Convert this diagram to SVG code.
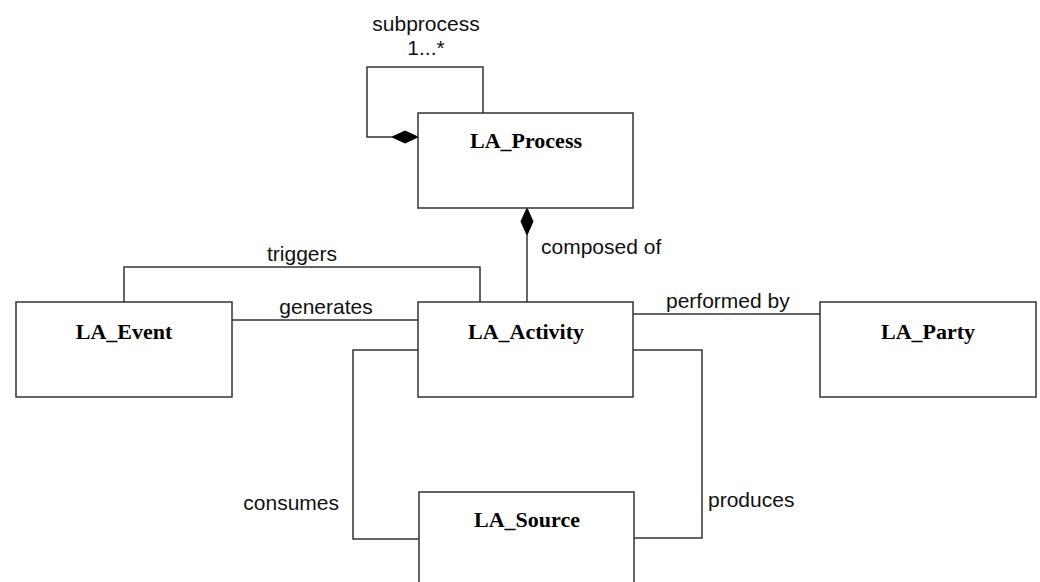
<svg xmlns="http://www.w3.org/2000/svg" width="1040" height="582" viewBox="0 0 1040 582">
<style>
.box{fill:#fff;stroke:#333;stroke-width:1.5}
.ln{fill:none;stroke:#333;stroke-width:1.5}
.dm{fill:#000;stroke:#000;stroke-width:1}
.nm{font-family:"Liberation Serif","Times New Roman",serif;font-weight:bold;font-size:22px;fill:#000;text-anchor:middle}
.lb{font-family:"Liberation Sans",Arial,sans-serif;font-size:21px;fill:#111}
</style>
<rect width="1040" height="582" fill="#fff"/>
<g id="connectors">
<polyline class="ln" points="483,113 483,67 367,67 367,137 392,137"/>
<polygon class="dm" points="392,137 405,131 418,137 405,143"/>
<line class="ln" x1="527" y1="235" x2="527" y2="302"/>
<polygon class="dm" points="527,208 533,221.5 527,235 521,221.5"/>
<polyline class="ln" points="124,302 124,267 480,267 480,302"/>
<line class="ln" x1="232" y1="320" x2="418" y2="320"/>
<line class="ln" x1="633" y1="314" x2="820" y2="314"/>
<polyline class="ln" points="418,350 353,350 353,539 419,539"/>
<polyline class="ln" points="633,350 702,350 702,538 634,538"/>
<text class="lb" x="426" y="31" text-anchor="middle">subprocess</text>
<text class="lb" x="426" y="55" text-anchor="middle">1...*</text>
<text class="lb" x="302" y="261" text-anchor="middle">triggers</text>
<text class="lb" x="326" y="314" text-anchor="middle">generates</text>
<text class="lb" x="541" y="254">composed of</text>
<text class="lb" x="666" y="308">performed by</text>
<text class="lb" x="339" y="510" text-anchor="end">consumes</text>
<text class="lb" x="708" y="507">produces</text>
</g>
<g id="LA_Process">
<rect class="box" x="418" y="113" width="215" height="95"/>
<text class="nm" x="526" y="148">LA_Process</text>
</g>
<g id="LA_Event">
<rect class="box" x="16" y="302" width="216" height="95"/>
<text class="nm" x="124" y="339">LA_Event</text>
</g>
<g id="LA_Activity">
<rect class="box" x="418" y="302" width="215" height="95"/>
<text class="nm" x="526" y="339">LA_Activity</text>
</g>
<g id="LA_Party">
<rect class="box" x="820" y="302" width="216" height="95"/>
<text class="nm" x="928" y="339">LA_Party</text>
</g>
<g id="LA_Source">
<rect class="box" x="419" y="492" width="215" height="100"/>
<text class="nm" x="527" y="527">LA_Source</text>
</g>
</svg>
